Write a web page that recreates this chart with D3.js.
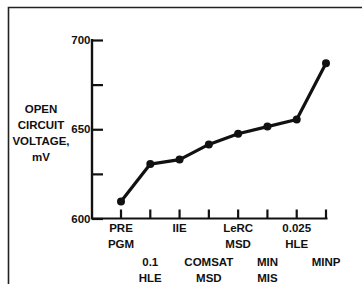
<!DOCTYPE html>
<html>
<head>
<meta charset="utf-8">
<script src="https://cdn.jsdelivr.net/npm/d3@7"></script>
<style>
  body { margin: 0; background: #fff; }
  text { font-family: "Liberation Sans", Arial, sans-serif; font-weight: bold; fill: #111; }
</style>
</head>
<body>
<div id="chart"></div>
<script>
// categories, two-line labels
const categories = ['PRE PGM', '0.1 HLE', 'IIE', 'COMSAT MSD', 'LeRC MSD', 'MIN MIS', '0.025 HLE', 'MINP'];
const labelLines = [['PRE', 'PGM'], ['0.1', 'HLE'], ['IIE'], ['COMSAT', 'MSD'], ['LeRC', 'MSD'], ['MIN', 'MIS'], ['0.025', 'HLE'], ['MINP']];
const voltage = [609.5, 630.5, 633, 641.5, 647.5, 651.5, 655.5, 687];
const yTicks = [600, 625, 650, 675, 700];
const yTickLabels = ['600', '', '650', '', '700'];
const yTitle = ['OPEN', 'CIRCUIT', 'VOLTAGE,', 'mV'];

const width = 362, height = 284;
const svg = d3.select('#chart')
  .append('svg')
  .attr('width', width)
  .attr('height', height);

// frame (top + left edges only visible in the crop)
svg.append('path')
  .attr('d', 'M8.5,290 V7.5 H370')
  .attr('fill', 'none')
  .attr('stroke', '#222')
  .attr('stroke-width', 1.6);

const x = d3.scalePoint().domain(categories).range([121, 326]);
const y = d3.scaleLinear().domain([600, 700]).range([218.5, 40]);
const x0 = 92, xEnd = 327.5;

const g = svg.append('g');

// y axis
const yAxis = g.append('g')
  .attr('transform', `translate(${x0},0)`)
  .call(d3.axisRight(y).tickValues(yTicks).tickSize(11).tickFormat(''));
yAxis.select('.domain').remove();
yAxis.selectAll('line').attr('stroke', '#111').attr('stroke-width', 2.2);
g.append('line')
  .attr('x1', x0).attr('x2', x0)
  .attr('y1', y(700) - 1).attr('y2', y(600) + 1)
  .attr('stroke', '#111').attr('stroke-width', 2.4);

yTicks.forEach(function(t, i) {
  if (!yTickLabels[i]) return;
  g.append('text')
    .attr('x', x0 - 1.5)
    .attr('y', y(t))
    .attr('dy', '0.36em')
    .attr('text-anchor', 'end')
    .attr('font-size', '11.5px')
    .text(yTickLabels[i]);
});

// x axis
g.append('line')
  .attr('x1', x0).attr('x2', xEnd)
  .attr('y1', y(600)).attr('y2', y(600))
  .attr('stroke', '#111').attr('stroke-width', 2.2);
categories.forEach(function(c) {
  g.append('line')
    .attr('x1', x(c)).attr('x2', x(c))
    .attr('y1', y(600)).attr('y2', y(600) - 9)
    .attr('stroke', '#111').attr('stroke-width', 2.2);
});

// category labels, staggered in two rows
categories.forEach(function(c, i) {
  const top = i % 2 === 0 ? 232 : 266;
  labelLines[i].forEach(function(line, j) {
    g.append('text')
      .attr('x', x(c))
      .attr('y', top + j * 16)
      .attr('text-anchor', 'middle')
      .attr('font-size', '11.5px')
      .text(line);
  });
});

// y title
yTitle.forEach(function(line, j) {
  g.append('text')
    .attr('x', 41)
    .attr('y', 113 + j * 16)
    .attr('text-anchor', 'middle')
    .attr('font-size', '11.5px')
    .text(line);
});

// data line
const lineGen = d3.line()
  .x((d, i) => x(categories[i]))
  .y(d => y(d));
g.append('path')
  .datum(voltage)
  .attr('d', lineGen)
  .attr('fill', 'none')
  .attr('stroke', '#111')
  .attr('stroke-width', 3.2)
  .attr('stroke-linejoin', 'round');

g.selectAll('circle.pt')
  .data(voltage)
  .enter()
  .append('circle')
  .attr('class', 'pt')
  .attr('cx', (d, i) => x(categories[i]))
  .attr('cy', d => y(d))
  .attr('r', 4)
  .attr('fill', '#111');
</script>
</body>
</html>
